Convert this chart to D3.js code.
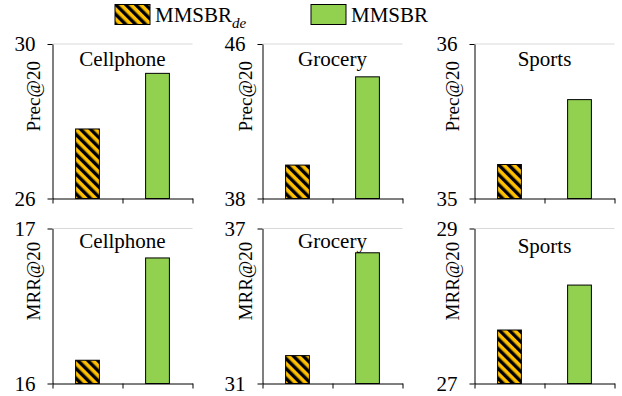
<!DOCTYPE html>
<html>
<head>
<meta charset="utf-8">
<script src="https://cdn.jsdelivr.net/npm/d3@7"></script>
<style>
  body { margin: 0; background: #fff; }
</style>
</head>
<body>
<svg width="622" height="396"></svg>
<script>
// ---- data ----
var datasets = ["Cellphone", "Grocery", "Sports"],
    methods = ["MMSBR_de", "MMSBR"],
    precDe = [27.80, 39.73, 35.22],
    precFull = [29.24, 44.30, 35.64],
    mrrDe = [16.15, 32.08, 27.69],
    mrrFull = [16.81, 36.06, 28.27],
    precTicks = [[26, 30], [38, 46], [35, 36]],
    mrrTicks = [[16, 17], [31, 37], [27, 29]];

var orange = "#ffc000",
    green = "#92d050",
    serif = "'Liberation Serif', 'Times New Roman', Times, serif";

var svg = d3.select("svg").style("font-family", serif);

// hatch pattern (wide downward diagonal)
var defs = svg.append("defs");
var pat = defs.append("pattern")
    .attr("id", "hatch")
    .attr("patternUnits", "userSpaceOnUse")
    .attr("width", 7)
    .attr("height", 7)
    .attr("patternTransform", "rotate(-45)");
pat.append("rect").attr("width", 7).attr("height", 7).attr("fill", orange);
pat.append("rect").attr("width", 3.4).attr("height", 7).attr("fill", "#000");

var fills = ["url(#hatch)", green];

// panel layout
var colX = [52.5, 262.5, 474.5],
    rowY = [{top: 44, bottom: 198.5}, {top: 228.5, bottom: 383.5}],
    plotW = 140,
    titleDy = [[22, 21.5, 22], [19.5, 19, 24.5]],
    yTitleDx = [13, 11, 16];

var rows = [
  {label: "Prec@20", de: precDe, full: precFull, ticks: precTicks},
  {label: "MRR@20", de: mrrDe, full: mrrFull, ticks: mrrTicks}
];

rows.forEach(function(row, r) {
  datasets.forEach(function(name, c) {
    var h = rowY[r].bottom - rowY[r].top;
    var g = svg.append("g")
        .attr("transform", "translate(" + colX[c] + "," + rowY[r].top + ")");

    var x = d3.scaleBand().domain(methods).range([0, plotW]).paddingInner(0.66).paddingOuter(0.33),
        xt = d3.scaleLinear().domain([0, methods.length]).range([0, plotW]),
        y = d3.scaleLinear().domain(row.ticks[c]).range([h, 0]);

    // top gridline
    g.append("line")
        .attr("x1", 0).attr("x2", plotW)
        .attr("y1", y(row.ticks[c][1])).attr("y2", y(row.ticks[c][1]))
        .attr("stroke", "#d9d9d9").attr("stroke-width", 1);

    var vals = [row.de[c], row.full[c]];
    g.selectAll(".bar")
      .data(vals)
      .enter().append("rect")
        .attr("class", "bar")
        .attr("x", function(d, i) { return x(methods[i]); })
        .attr("y", function(d) { return y(d); })
        .attr("width", x.bandwidth())
        .attr("height", function(d) { return h - y(d); })
        .attr("fill", function(d, i) { return fills[i]; })
        .attr("stroke", "#000")
        .attr("stroke-width", 1);

    // x axis
    var xa = g.append("g")
        .attr("transform", "translate(0," + h + ")")
        .call(d3.axisBottom(xt).tickValues(d3.range(methods.length + 1))
              .tickFormat("").tickSize(5).tickSizeOuter(0));
    xa.select(".domain").attr("stroke", "#000");
    xa.selectAll("line").attr("stroke", "#000");

    // y axis
    var ya = g.append("g")
        .call(d3.axisLeft(y).tickValues(row.ticks[c]).tickFormat(d3.format("d"))
              .tickSize(5).tickSizeOuter(0).tickPadding(12));
    ya.attr("font-family", null).attr("font-size", null);
    ya.select(".domain").attr("stroke", "#000");
    ya.selectAll("line").attr("stroke", "#000");
    ya.selectAll("text")
        .style("font-family", serif)
        .style("font-size", "21px")
        .attr("fill", "#000");

    // y title
    g.append("text")
        .attr("transform", "translate(" + (-yTitleDx[c]) + "," + (h / 2 - 25) + ") rotate(-90)")
        .attr("text-anchor", "middle")
        .style("font-family", serif)
        .style("font-size", "19px")
        .text(row.label);

    // dataset title
    g.append("text")
        .attr("x", plotW / 2)
        .attr("y", titleDy[r][c])
        .attr("text-anchor", "middle")
        .style("font-family", serif)
        .style("font-size", "21px")
        .text(name);
  });
});

// legend
var legend = svg.append("g").attr("class", "legend");
var legendX = [115, 311];
methods.forEach(function(m, i) {
  legend.append("rect")
      .attr("x", legendX[i]).attr("y", 4.5)
      .attr("width", 35).attr("height", 20)
      .attr("fill", fills[i])
      .attr("stroke", "#000").attr("stroke-width", 1);
  var t = legend.append("text")
      .attr("x", legendX[i] + 40).attr("y", 22)
      .style("font-family", serif)
      .style("font-size", "21px");
  var parts = m.split("_");
  t.append("tspan").text(parts[0]);
  if (parts[1]) {
    t.append("tspan")
        .attr("dy", 6)
        .style("font-size", "15px")
        .style("font-style", "italic")
        .text(parts[1]);
  }
});
</script>
</body>
</html>
